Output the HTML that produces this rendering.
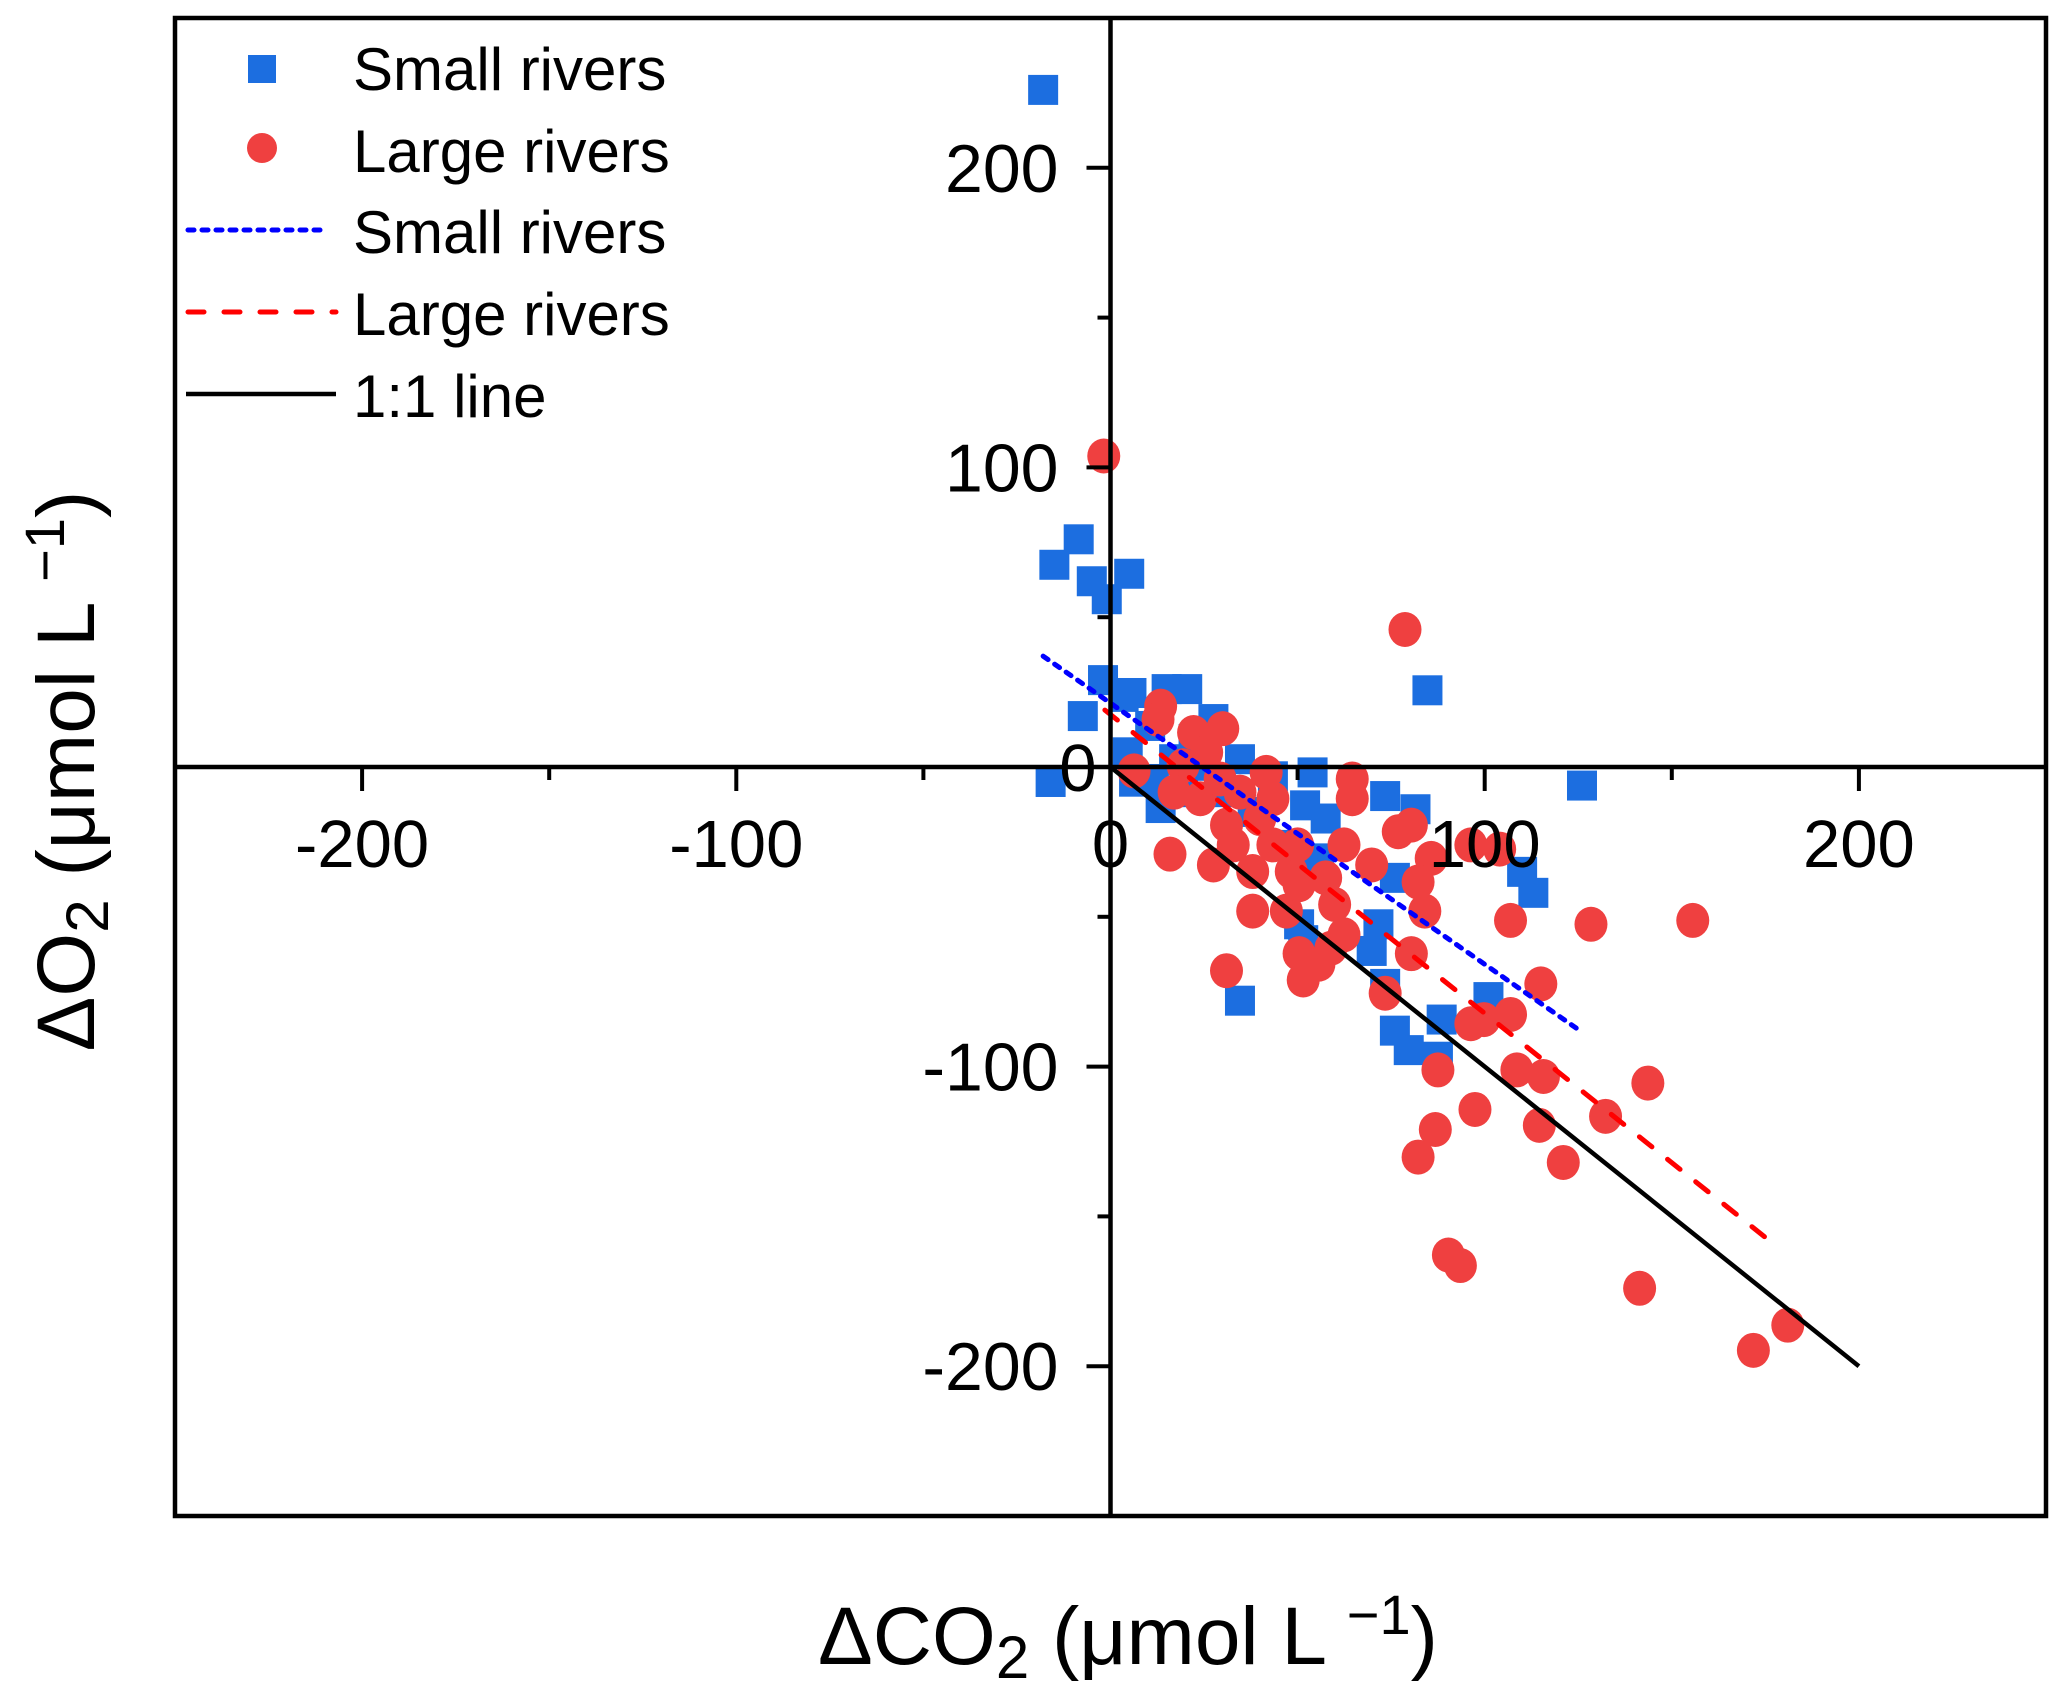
<!DOCTYPE html>
<html><head><meta charset="utf-8"><style>
html,body{margin:0;padding:0;background:#fff}
svg{display:block;font-family:"Liberation Sans",Arial,sans-serif}
</style></head><body>
<svg id="chart" width="2067" height="1700" viewBox="0 0 2067 1700" xmlns="http://www.w3.org/2000/svg">
<rect x="0" y="0" width="2067" height="1700" fill="#fff"/>
<g id="marks"></g>
<rect x="175" y="18" width="1871" height="1498" fill="none" stroke="#000" stroke-width="4.5"/>
<g id="axes"></g>
<text x="1128" y="1664" font-size="82" text-anchor="middle">ΔCO<tspan font-size="60" dy="14">2</tspan><tspan dy="-14"> (μmol L </tspan><tspan font-size="56" dy="-30">−1</tspan><tspan dy="30">)</tspan></text>
<text transform="translate(94,771) rotate(-90)" x="0" y="0" font-size="82" text-anchor="middle">ΔO<tspan font-size="60" dy="14">2</tspan><tspan dy="-14"> (μmol L </tspan><tspan font-size="56" dy="-30">−1</tspan><tspan dy="30">)</tspan></text>
<g id="legend">
  <rect x="248" y="55" width="28" height="28" fill="#1c6ee0"/>
  <text x="353" y="90" font-size="60">Small rivers</text>
  <ellipse cx="262" cy="148" rx="15" ry="15" fill="#ef4040"/>
  <text x="353" y="172" font-size="60">Large rivers</text>
  <line x1="188" y1="230" x2="323" y2="230" stroke="#0000ff" stroke-width="5" stroke-dasharray="6,8" stroke-linecap="round"/>
  <text x="353" y="253" font-size="60">Small rivers</text>
  <line x1="188" y1="312" x2="336" y2="312" stroke="#ff0000" stroke-width="5" stroke-dasharray="16,20" stroke-linecap="round"/>
  <text x="353" y="335" font-size="60">Large rivers</text>
  <line x1="186" y1="394" x2="336" y2="394" stroke="#000" stroke-width="4.5"/>
  <text x="353" y="417" font-size="60">1:1 line</text>
</g>
</svg>
<script>
const xTicks=[-200,-150,-100,-50,50,100,150,200];
const yTicks=[200,150,100,50,-50,-100,-150,-200];
const xTickLabels=["-200","-100","100","200"];
const xTickLabelVals=[-200,-100,100,200];
const yTickLabelVals=[200,100,-100,-200];
const yTickLabels=["200","100","-100","-200"];
const smallX=[-18,-16,-15,-8.5,-5,-1,5,-7.4,-2,3.5,5.6,15,20.5,27.5,10.6,4.6,6.3,13.4,19.4,24,31,34.6,43.4,54,52,57.5,47,55.7,73.4,81.5,84.7,126,110,113,76,71.6,69.8,73.4,76,79.7,88.5,87.5,101,34.6,51.5,50.4,11.6,17,22.2,38];
const smallY=[226,-5,67.5,76,62,56,64.5,17,29,23.4,24.7,26,26,16,13.7,4.9,-4.9,-13.7,-8.4,0.4,-8.4,2.6,-3.1,-1.8,-12.8,-17.2,-26,-30.5,-9.7,-14.1,25.6,-6.2,-35,-42,-37,-52.5,-61.4,-72.4,-88,-94.5,-84.3,-96.7,-76.8,-78,-57.8,-52.5,-4,2.6,9.3,-15];
const largeX=[-1.8,78.7,13.4,12.7,22.2,30,25.7,19.4,17,6.3,24,29.3,34.6,41.6,43.4,39.9,31,27.5,32.8,38,43.4,48.3,50,38,47,50.4,57.5,59.9,62.4,58.9,50.4,55.7,51.5,31,15.9,64.6,64.6,62.4,69.8,76.9,80.4,85.7,82.2,84,80.4,73.4,96.3,104,106.9,128.4,155.6,115,106.9,99.8,108.6,115.7,87.5,97.4,86.8,114.6,82.2,121,132.3,143.6,90.3,93.5,141.4,171.8,181,96.3];
const largeY=[103.8,45.9,20.3,15.9,11.5,12.8,4.9,0.4,-8.4,-1.3,-10.6,-4,-8.4,-1.8,-10.6,-17.2,-19.4,-32.7,-26,-34.9,-26,-34.9,-26,-48.1,-48.1,-39.3,-37,-45.9,-56,-60.5,-62.3,-65.8,-71.1,-68,-29.1,-4,-10.6,-26,-32.7,-21.6,-19.4,-30.5,-38.4,-48.1,-62.3,-75.5,-26,-27.4,-51.2,-52.5,-51.2,-72.4,-82.6,-84.3,-101.1,-103.3,-101.1,-114.3,-121,-119.6,-130.2,-132,-116.6,-105.5,-162.9,-166.4,-174,-194.7,-186.3,-85.7];
const smallFitX=[-18,126];
const smallFitY=[37,-88.5];
const largeFitX=[-1.5,178];
const largeFitY=[19,-160];
const oneX=[0,200];
const oneY=[0,-200];

const NS="http://www.w3.org/2000/svg";
const X0=175,X1=2046,Y0=18,Y1=1516;
function sx(v){return X0+(v+250)/500*(X1-X0);}
function sy(v){return Y1-(v+250)/500*(Y1-Y0);}
function mk(tag,attrs,parent){const e=document.createElementNS(NS,tag);for(const k in attrs)e.setAttribute(k,attrs[k]);parent.appendChild(e);return e;}
const marks=document.getElementById('marks');
const axes=document.getElementById('axes');

let ax=mk('line',{x1:X0,x2:X1,y1:sy(0),y2:sy(0),stroke:'#000','stroke-width':4.5},axes);


let ay=mk('line',{x1:sx(0),x2:sx(0),y1:Y0,y2:Y1,stroke:'#000','stroke-width':4.5},axes);


xTicks.forEach(v=>{const major=v%100===0;
 const t=mk('line',{x1:sx(v),x2:sx(v),y1:sy(0),y2:sy(0)+(major?24:13),stroke:'#000','stroke-width':4},axes);
 
 });
yTicks.forEach(v=>{const major=v%100===0;
 const t=mk('line',{x1:sx(0),x2:sx(0)-(major?24:13),y1:sy(v),y2:sy(v),stroke:'#000','stroke-width':4},axes);
 
 });
xTickLabelVals.forEach((v,i)=>{const t=mk('text',{x:sx(v),y:sy(0)+100,'font-size':67,'text-anchor':'middle'},axes);t.textContent=xTickLabels[i];
 
 });
yTickLabelVals.forEach((v,i)=>{const t=mk('text',{x:sx(0)-52,y:sy(v)+24,'font-size':68,'text-anchor':'end'},axes);t.textContent=yTickLabels[i];
 
 });
let z1=mk('text',{x:sx(0)-14,y:sy(0)+24,'font-size':67,'text-anchor':'end'},axes);z1.textContent='0';


let z2=mk('text',{x:sx(0),y:sy(0)+100,'font-size':67,'text-anchor':'middle'},axes);z2.textContent='0';



smallX.forEach((v,i)=>{const r=mk('rect',{x:sx(v)-15,y:sy(smallY[i])-15,width:30,height:30,fill:'#1c6ee0'},marks);
 
 });
largeX.forEach((v,i)=>{const c=mk('ellipse',{cx:sx(v),cy:sy(largeY[i]),rx:16.5,ry:17.5,fill:'#ef4040'},marks);
 
 });
let l1=mk('line',{x1:sx(oneX[0]),y1:sy(oneY[0]),x2:sx(oneX[1]),y2:sy(oneY[1]),stroke:'#000','stroke-width':4.5},marks);


let l2=mk('line',{x1:sx(smallFitX[0]),y1:sy(smallFitY[0]),x2:sx(smallFitX[1]),y2:sy(smallFitY[1]),stroke:'#0000ff','stroke-width':5,'stroke-dasharray':'6,8','stroke-linecap':'round'},marks);


let l3=mk('line',{x1:sx(largeFitX[0]),y1:sy(largeFitY[0]),x2:sx(largeFitX[1]),y2:sy(largeFitY[1]),stroke:'#ff0000','stroke-width':5,'stroke-dasharray':'16,20','stroke-linecap':'round'},marks);


</script>
</body></html>
